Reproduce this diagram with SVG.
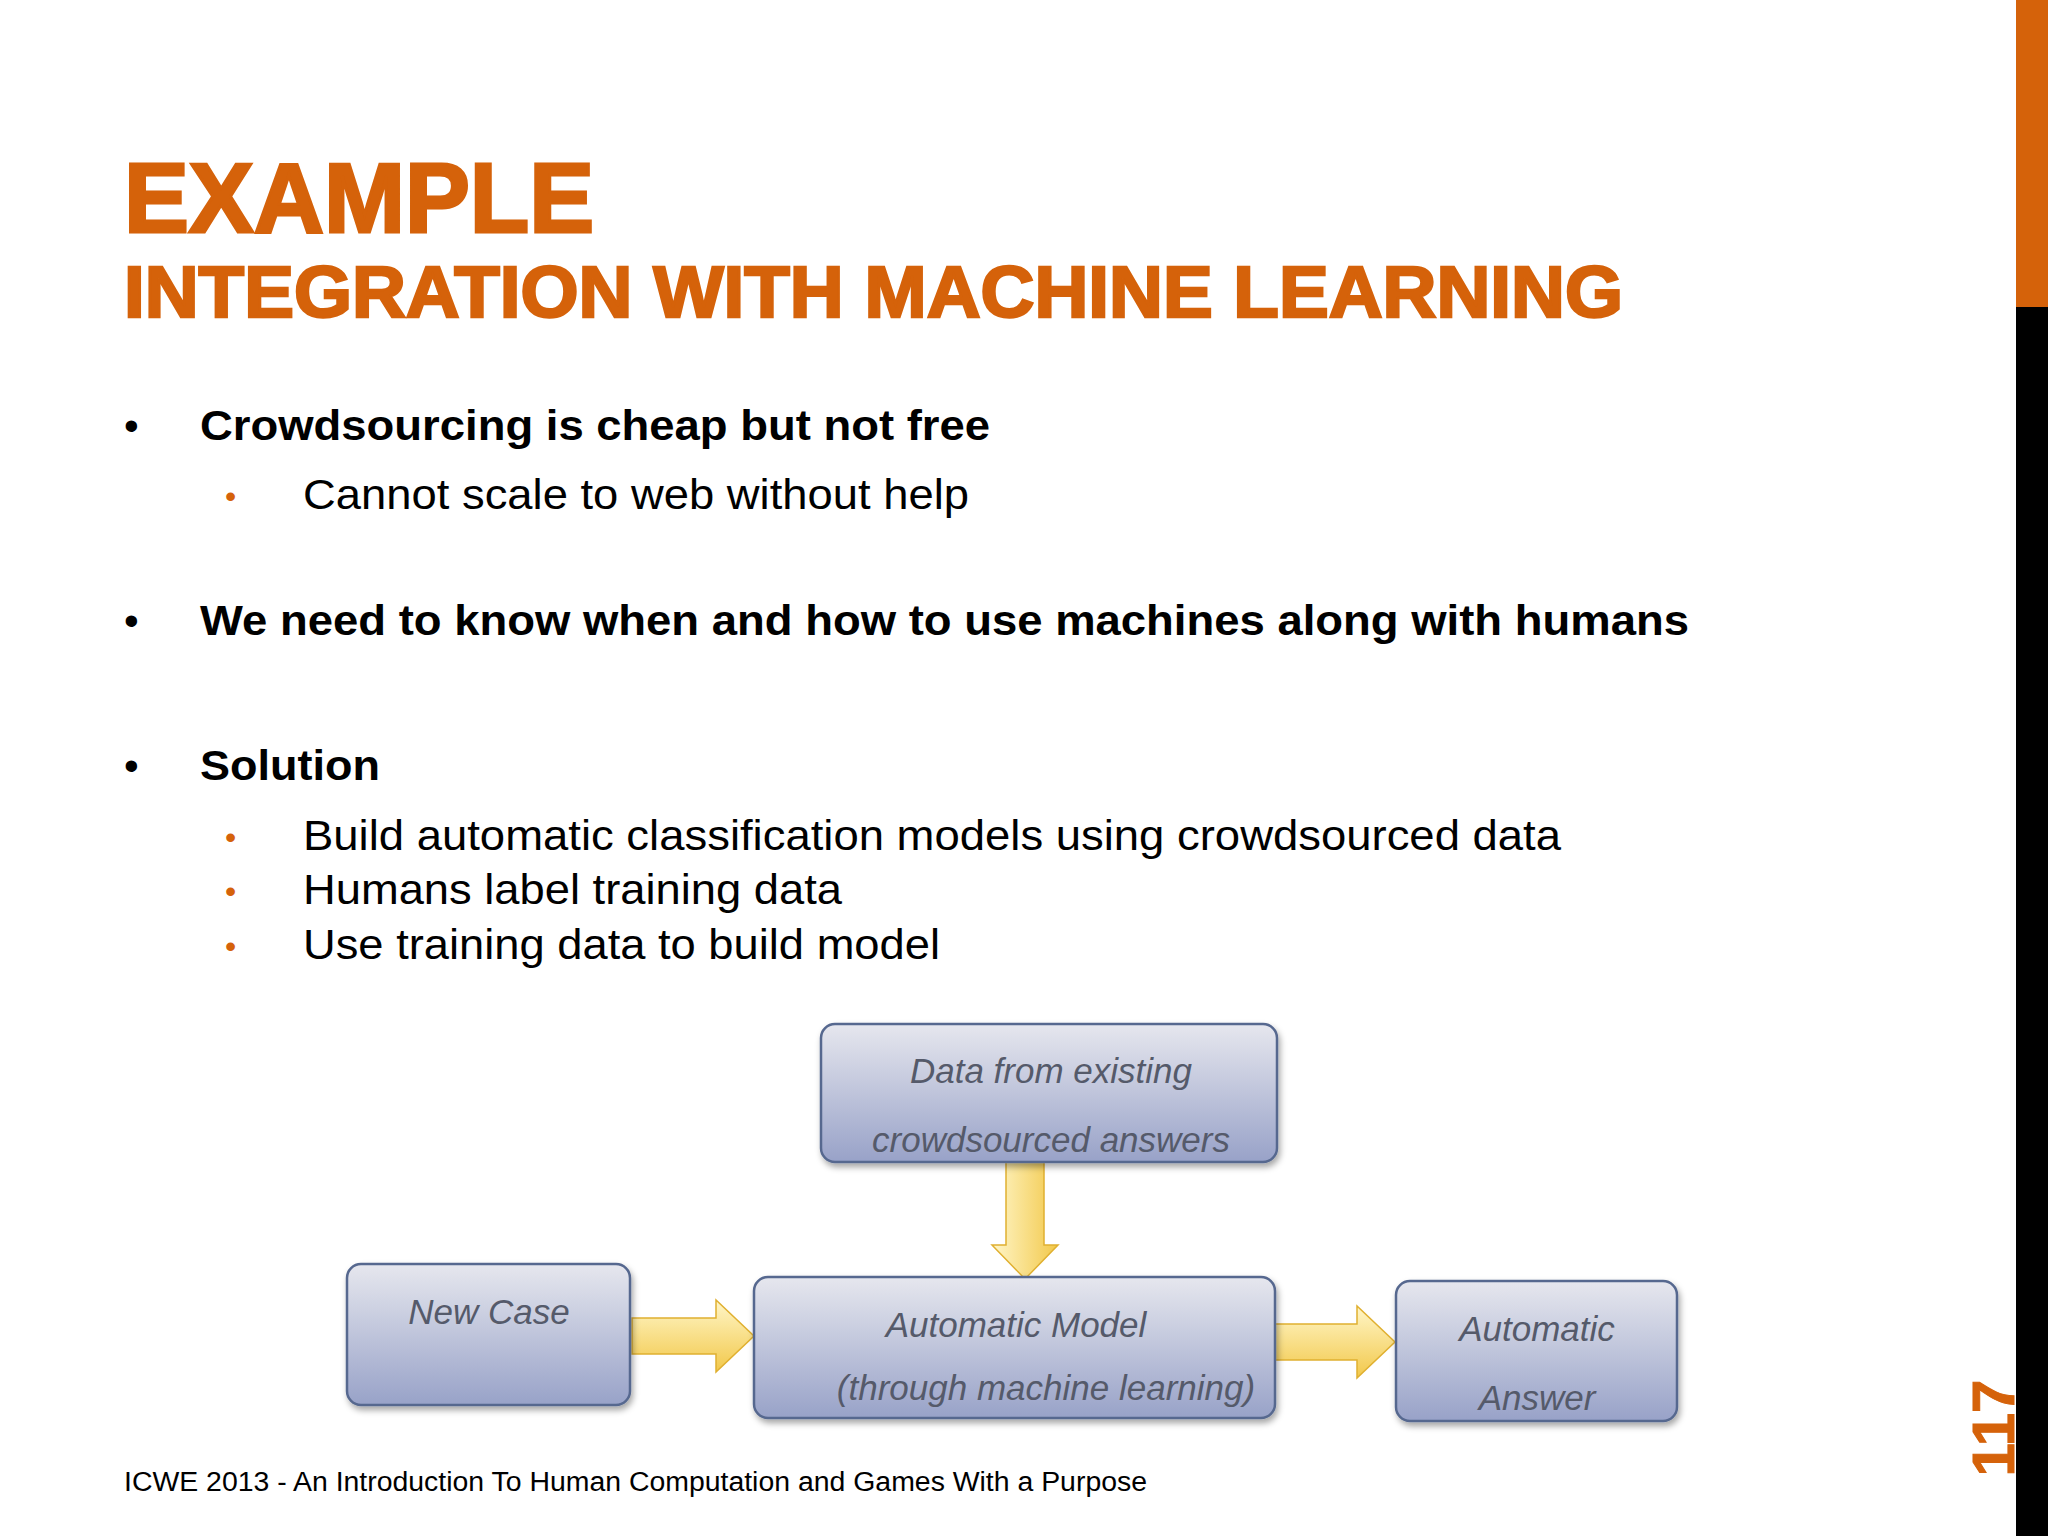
<svg xmlns="http://www.w3.org/2000/svg" width="2048" height="1536" viewBox="0 0 2048 1536">
<defs>
<linearGradient id="bx" x1="0" y1="0" x2="0" y2="1"><stop offset="0" stop-color="#e6e7ee"/><stop offset="1" stop-color="#98a2c8"/></linearGradient>
<linearGradient id="ar" x1="0" y1="0" x2="0" y2="1"><stop offset="0" stop-color="#fff6c8"/><stop offset="1" stop-color="#f2c84a"/></linearGradient>
<linearGradient id="ad" x1="0" y1="0" x2="1" y2="0"><stop offset="0" stop-color="#fff6c8"/><stop offset="1" stop-color="#f2c84a"/></linearGradient>
<filter id="sh"><feDropShadow dx="2" dy="4" stdDeviation="3" flood-opacity="0.35"/></filter>
<style>
.t{font-family:"Liberation Sans",Arial,sans-serif;fill:#000}
.h{font-family:"Liberation Sans",Arial,sans-serif;font-weight:bold;fill:#d5620a;stroke:#d5620a}
.b{font-weight:bold;font-size:42px}
.s{font-size:42px}
.ob{fill:#d5620a;font-size:32px}
.box{fill:url(#bx);stroke:#56688f;stroke-width:2.5;filter:url(#sh)}
.bt{font-family:"Liberation Sans",Arial,sans-serif;font-style:italic;font-size:35px;fill:#555a6a;text-anchor:middle}
.arr{stroke:#e0b030;stroke-width:1.5}
</style>
</defs>
<rect width="2048" height="1536" fill="#fff"/>
<rect x="2016" y="0" width="32" height="307" fill="#d5620a"/>
<rect x="2016" y="307" width="32" height="1229" fill="#000"/>
<text class="h" x="124" y="232" font-size="98" stroke-width="3" textLength="470" lengthAdjust="spacingAndGlyphs">EXAMPLE</text>
<text class="h" x="124" y="317" font-size="72" stroke-width="2.5" textLength="1499" lengthAdjust="spacingAndGlyphs">INTEGRATION WITH MACHINE LEARNING</text>
<g class="t">
<text x="124" y="440" class="s">•</text><text x="200" y="440" class="b" textLength="790" lengthAdjust="spacingAndGlyphs">Crowdsourcing is cheap but not free</text>
<text x="225" y="507" class="ob">•</text><text x="303" y="509" class="s" textLength="666" lengthAdjust="spacingAndGlyphs">Cannot scale to web without help</text>
<text x="124" y="635" class="s">•</text><text x="200" y="635" class="b" textLength="1489" lengthAdjust="spacingAndGlyphs">We need to know when and how to use machines along with humans</text>
<text x="124" y="780" class="s">•</text><text x="200" y="780" class="b" textLength="180" lengthAdjust="spacingAndGlyphs">Solution</text>
<text x="225" y="848" class="ob">•</text><text x="303" y="850" class="s" textLength="1258" lengthAdjust="spacingAndGlyphs">Build automatic classification models using crowdsourced data</text>
<text x="225" y="902" class="ob">•</text><text x="303" y="904" class="s" textLength="539" lengthAdjust="spacingAndGlyphs">Humans label training data</text>
<text x="225" y="957" class="ob">•</text><text x="303" y="959" class="s" textLength="637" lengthAdjust="spacingAndGlyphs">Use training data to build model</text>
<text x="124" y="1491" font-size="27" textLength="1023" lengthAdjust="spacingAndGlyphs">ICWE 2013 - An Introduction To Human Computation and Games With a Purpose</text>
</g>
<text class="h" font-size="60" stroke-width="1" transform="translate(2014,1428) rotate(-90)" text-anchor="middle">117</text>
<g id="connectors">
<path class="arr" fill="url(#ad)" d="M1006,1162 H1044 V1245 H1058 L1025,1279 L992,1245 H1006 Z"/>
<path class="arr" fill="url(#ar)" d="M632,1318 H716 V1300 L754,1336 L716,1372 V1354 H632 Z"/>
<path class="arr" fill="url(#ar)" d="M1273,1324 H1357 V1306 L1395,1342 L1357,1378 V1360 H1273 Z"/>
</g>
<g id="data"><rect class="box" x="821" y="1024" width="456" height="138" rx="14"/>
<text class="bt" x="1051" y="1083">Data from existing</text><text class="bt" x="1051" y="1152">crowdsourced answers</text></g>
<g id="newcase"><rect class="box" x="347" y="1264" width="283" height="141" rx="14"/>
<text class="bt" x="489" y="1324">New Case</text></g>
<g id="model"><rect class="box" x="754" y="1277" width="521" height="141" rx="14"/>
<text class="bt" x="1016" y="1337">Automatic Model</text><text class="bt" x="1046" y="1400">(through machine learning)</text></g>
<g id="answer"><rect class="box" x="1396" y="1281" width="281" height="140" rx="14"/>
<text class="bt" x="1537" y="1341">Automatic</text><text class="bt" x="1537" y="1410">Answer</text></g>
</svg>
